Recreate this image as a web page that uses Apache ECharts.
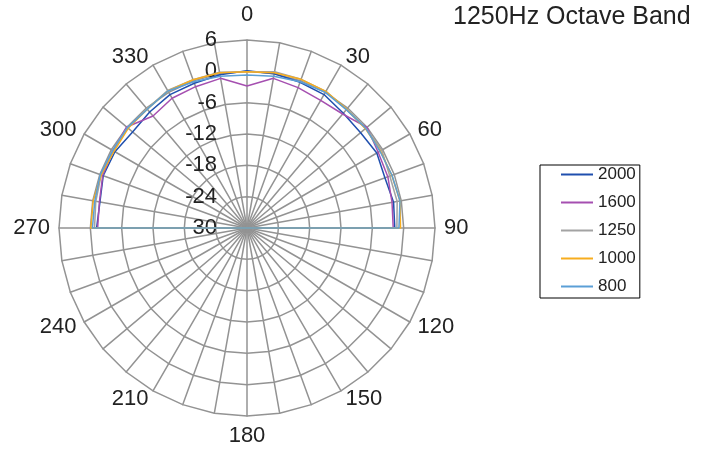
<!DOCTYPE html>
<html>
<head>
<meta charset="utf-8">
<script src="https://cdn.jsdelivr.net/npm/echarts@6/dist/echarts.min.js"></script>
<style>
html,body{margin:0;padding:0;background:#fff;}
#chart{width:702px;height:455px;}
</style>
</head>
<body>
<div id="chart"></div>
<script>
// Angles (degrees) of each radar category, clockwise from top
const angles = [0,10,20,30,40,50,60,70,80,90,100,110,120,130,140,150,160,170,180,190,200,210,220,230,240,250,260,270,280,290,300,310,320,330,340,350];
// Angle tick labels shown
const angleTickLabels = ['0','30','60','90','120','150','180','210','240','270','300','330'];
// Radial axis (dB)
const radialMin = -30;
const radialMax = 6;
const radialStep = 6;

const seriesNames = ['2000','1600','1250','1000','800'];

// Values in angle order (0..350 step 10)
const v2000 = [0.1,0.0,-0.3,-0.5,-1.3,-1.6,-1.3,-1.9,-1.5,-1.7,-30,-30,-30,-30,-30,-30,-30,-30,-30,-30,-30,-30,-30,-30,-30,-30,-30,-1.2,-1.4,-0.7,-0.8,-1.4,-1.0,-0.5,-0.5,-0.2];
const v1600 = [-2.8,-0.9,-1.4,-1.8,-1.5,0.0,-1.0,-1.3,-1.8,-2.0,-30,-30,-30,-30,-30,-30,-30,-30,-30,-30,-30,-30,-30,-30,-30,-30,-30,-1.4,-1.3,-0.6,-0.4,0.1,-2.0,-1.3,-1.2,-0.9];
const v1250 = [-0.1,0.4,0.3,0.2,-0.4,-0.3,-0.2,-0.9,-0.8,-1.3,-30,-30,-30,-30,-30,-30,-30,-30,-30,-30,-30,-30,-30,-30,-30,-30,-30,-0.8,-0.6,-0.3,-0.3,-0.1,-0.2,0.4,0.2,0.3];
const v1000 = [-0.1,0.2,0.3,0.2,-0.3,-0.4,-0.5,-0.5,-0.25,-0.6,-30,-30,-30,-30,-30,-30,-30,-30,-30,-30,-30,-30,-30,-30,-30,-30,-30,-0.1,-0.1,-0.3,-0.6,-0.3,-0.3,0.3,0.2,0.2];
const v800 = [-0.7,-0.5,-0.2,0.0,-0.4,-0.3,-0.6,-0.45,-0.25,-0.9,-30,-30,-30,-30,-30,-30,-30,-30,-30,-30,-30,-30,-30,-30,-30,-30,-30,-0.4,-0.4,-0.1,-0.3,-0.1,-0.3,0.3,-0.2,-0.5];

const colors = ['#1f4fae','#a54fb0','#a3a3a3','#f7ad1e','#5b9fd6'];
const allValues = [v2000, v1600, v1250, v1000, v800];

const FONT = 'Liberation Sans, Arial, Helvetica, sans-serif';
const GRID = '#939393';

// ECharts radar places indicators counter-clockwise; reorder so that angles run clockwise.
const order = angles.map((a, k) => (36 - k) % 36);
const indicator = order.map((idx, k) => {
  const a = angles[idx];
  const ind = {
    name: angleTickLabels.indexOf(String(a)) >= 0 ? String(a) : '',
    min: radialMin,
    max: radialMax
  };
  if (k === 0) {
    ind.axisLabel = {show: true, color: '#222', fontSize: 22, fontFamily: FONT, margin: 30};
  }
  return ind;
});

const chart = echarts.init(document.getElementById('chart'));
chart.setOption({
  animation: false,
  backgroundColor: '#fff',
  title: {
    text: '1250Hz Octave Band',
    left: 453, top: 5, padding: 0,
    textStyle: {fontSize: 25, fontWeight: 'normal', color: '#222', fontFamily: FONT}
  },
  legend: {
    orient: 'vertical',
    left: 540, top: 165,
    padding: [1, 4, 3, 21],
    borderColor: '#000', borderWidth: 1,
    itemWidth: 32, itemHeight: 2, itemGap: 11,
    icon: 'rect',
    data: seriesNames,
    textStyle: {fontSize: 17, color: '#222', fontFamily: FONT}
  },
  radar: {
    center: [247, 228],
    radius: 188,
    startAngle: 90,
    shape: 'polygon',
    splitNumber: (radialMax - radialMin) / radialStep,
    nameGap: 9,
    axisName: {
      color: '#222', fontSize: 22, fontFamily: FONT,
      formatter: function (n) { return n === '0' ? '{top|0}' : n; },
      rich: {top: {fontSize: 22, fontFamily: FONT, color: '#222', padding: [0, 0, 5, 0]}}
    },
    axisLine: {show: true, lineStyle: {color: GRID, width: 1.5}},
    splitLine: {show: true, lineStyle: {color: GRID, width: 1.5}},
    splitArea: {show: false},
    axisTick: {show: false},
    axisLabel: {show: false},
    indicator: indicator
  },
  series: [{
    type: 'radar',
    symbol: 'none',
    data: seriesNames.map((n, i) => ({
      name: n,
      value: order.map(idx => allValues[i][idx]),
      lineStyle: {color: colors[i], width: 1.5},
      itemStyle: {color: colors[i]}
    }))
  }]
});
</script>
</body>
</html>
